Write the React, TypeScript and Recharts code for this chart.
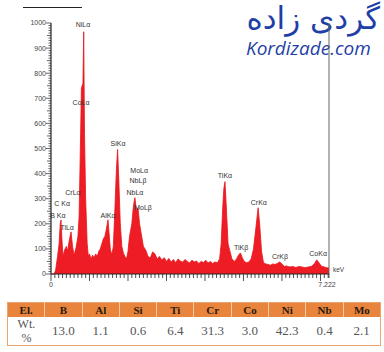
import { AreaChart, Area, XAxis, YAxis, ReferenceDot, ReferenceLine } from "recharts";

// EDS spectrum (keV, counts)
const energyKeV = [
  0.0, 0.08, 0.12, 0.17, 0.21, 0.24, 0.26, 0.28, 0.31, 0.35, 0.4, 0.43, 0.47, 0.52, 0.56, 0.6,
  0.65, 0.7, 0.73, 0.77, 0.79, 0.83, 0.85, 0.87, 0.9, 0.94, 0.97, 1.0, 1.04, 1.08, 1.12, 1.16,
  1.2, 1.24, 1.28, 1.32, 1.36, 1.4, 1.44, 1.48, 1.51, 1.54, 1.58, 1.62, 1.66, 1.7, 1.73, 1.76,
  1.8, 1.84, 1.88, 1.92, 1.96, 2.0, 2.04, 2.1, 2.14, 2.18, 2.22, 2.26, 2.3, 2.34, 2.4, 2.46,
  2.52, 2.58, 2.64, 2.7, 2.76, 2.82, 2.88, 2.94, 3.0, 3.06, 3.12, 3.18, 3.24, 3.3, 3.36, 3.42,
  3.48, 3.54, 3.6, 3.66, 3.72, 3.78, 3.84, 3.9, 3.96, 4.02, 4.08, 4.14, 4.2, 4.26, 4.32, 4.38,
  4.42, 4.46, 4.49, 4.52, 4.55, 4.6, 4.65, 4.7, 4.76, 4.82, 4.87, 4.92, 4.97, 5.02, 5.08, 5.14,
  5.2, 5.26, 5.32, 5.38, 5.42, 5.47, 5.52, 5.58, 5.64, 5.7, 5.76, 5.82, 5.88, 5.94, 6.0, 6.06,
  6.12, 6.2, 6.28, 6.36, 6.44, 6.52, 6.6, 6.68, 6.76, 6.84, 6.9, 6.94, 6.98, 7.04, 7.1, 7.16,
  7.222,
];
const counts = [
  0, 0, 15, 70, 120, 200, 215, 150, 70, 95, 110, 90, 130, 168, 110, 75,
  105, 150, 230, 560, 740, 760, 965, 560, 300, 120, 70, 80, 60, 75, 65, 80,
  70, 90, 100, 120, 140, 150, 180, 216, 160, 100, 76, 110, 260, 420, 496, 380,
  200, 110, 84, 70, 60, 90, 150, 200, 270, 304, 250, 264, 200, 164, 110, 96,
  70, 64, 88, 80, 60, 70, 55, 65, 50, 62, 48, 58, 45, 60, 52, 47,
  58, 50, 44, 55, 48, 52, 42, 50, 46, 55, 44, 50, 42, 48, 45, 60,
  120, 260, 340, 368, 280, 120, 90, 60, 50, 60, 75, 84, 65, 50, 45, 48,
  60, 100, 180, 264, 200, 90, 45, 40, 38, 35, 40, 38, 42, 48, 40, 30,
  32, 28, 30, 26, 30, 28, 25, 28, 30, 40, 56, 50, 40, 30, 28, 25,
  24,
];

const peakNames = [
  "NiLα", "CoLα", "CrLα", "C Kα", "B Kα", "TiLα", "AlKα", "SiKα", "MoLα",
  "NbLβ", "NbLα", "MoLβ", "TiKα", "TiKβ", "CrKα", "CrKβ", "CoKα",
];
const peakLabelKeV = [0.83, 0.78, 0.57, 0.29, 0.18, 0.42, 1.48, 1.74, 2.29, 2.26, 2.18, 2.39, 4.52, 4.94, 5.4, 5.95, 6.94];
const peakLabelCounts = [992, 684, 324, 280, 232, 184, 232, 520, 412, 372, 324, 264, 392, 104, 284, 68, 80];

const elements = ["B", "Al", "Si", "Ti", "Cr", "Co", "Ni", "Nb", "Mo"];
const wtPercent = ["13.0", "1.1", "0.6", "6.4", "31.3", "3.0", "42.3", "0.4", "2.1"];

const X_MAX = 7.222;
const yTicks = Array.from({ length: 101 }, (_, i) => i * 10);
const xTicks = [...Array.from({ length: 73 }, (_, i) => i / 10), X_MAX];

const data = energyKeV.map((keV, i) => ({ keV, counts: counts[i] }));

function YTick({ x, y, payload }: any) {
  const v = payload.value;
  const major = v % 100 === 0;
  const len = major ? 5 : v % 50 === 0 ? 4 : 2.5;
  return (
    <g>
      <line x1={x} x2={x - len} y1={y} y2={y} stroke="#222" strokeWidth={0.7} />
      {major && (
        <text x={x - len} y={y} dy="0.35em" textAnchor="end" fontSize={7} fill="#444" fontFamily="Arial">
          {v}
        </text>
      )}
    </g>
  );
}

function XTick({ x, y, payload }: any) {
  const v = payload.value;
  const isEnd = v === X_MAX;
  const major = Math.abs(v - Math.round(v)) < 1e-6;
  const len = major ? 7 : 4;
  return (
    <g>
      <line x1={x} x2={x} y1={y} y2={y + len} stroke="#222" strokeWidth={0.8} />
      {(v === 0 || isEnd) && (
        <text x={x - (isEnd ? 2 : 0)} y={y + 13} textAnchor="middle" fontSize={7} fill="#444" fontFamily="Arial">
          {isEnd ? "7.222" : "0"}
        </text>
      )}
      {isEnd && (
        <text x={x + 4} y={y - 2} fontSize={6.5} fill="#444" fontFamily="Arial">
          keV
        </text>
      )}
    </g>
  );
}

const cell: React.CSSProperties = { textAlign: "center", padding: 0 };

export default function App() {
  return (
    <div style={{ position: "absolute", left: 0, top: 0, width: 384, height: 352, background: "#fff", overflow: "hidden" }}>
      <div style={{ position: "absolute", left: 23, top: 7, width: 59, height: 1, background: "#222" }} />
      <div
        style={{
          position: "absolute",
          right: 4,
          top: 0,
          fontFamily: "DejaVu Sans",
          fontSize: 31,
          lineHeight: "normal",
          color: "#1f3fa6",
          direction: "rtl",
          whiteSpace: "nowrap",
        }}
      >
        گردی زاده
      </div>
      <div
        style={{
          position: "absolute",
          left: 246,
          top: 37,
          fontFamily: "Open Sans",
          fontStyle: "italic",
          fontSize: 19,
          lineHeight: "22px",
          color: "#1f3fa6",
        }}
      >
        Kordizade.com
      </div>

      <div style={{ position: "absolute", left: 0, top: 0 }}>
        <AreaChart width={384} height={290} data={data} margin={{ top: 23, right: 55, left: 0, bottom: 0 }}>
          <XAxis
            dataKey="keV"
            type="number"
            domain={[0, X_MAX]}
            ticks={xTicks}
            interval={0}
            tick={<XTick />}
            tickSize={0}
            tickMargin={0}
            tickLine={false}
            axisLine={{ stroke: "#222", strokeWidth: 1 }}
            height={16}
            allowDataOverflow
          />
          <YAxis
            type="number"
            domain={[0, 1000]}
            ticks={yTicks}
            interval={0}
            tick={<YTick />}
            tickSize={0}
            tickMargin={0}
            tickLine={false}
            axisLine={{ stroke: "#222", strokeWidth: 1.2 }}
            width={51}
          />
          <ReferenceLine x={X_MAX} stroke="#666" strokeWidth={1} />
          <Area
            type="linear"
            dataKey="counts"
            stroke="#e8141b"
            strokeWidth={0.8}
            fill="#ee1c24"
            fillOpacity={1}
            dot={false}
            activeDot={false}
            isAnimationActive={false}
          />
          {peakNames.map((name, i) => (
            <ReferenceDot
              key={name}
              x={peakLabelKeV[i]}
              y={peakLabelCounts[i]}
              r={0}
              fill="none"
              stroke="none"
              ifOverflow="visible"
              label={{ value: name, position: "center", fontSize: 7, fill: "#333", fontFamily: "Arial" }}
            />
          ))}
        </AreaChart>
      </div>

      <table
        style={{
          position: "absolute",
          left: 7,
          top: 302,
          width: 374,
          borderCollapse: "collapse",
          tableLayout: "fixed",
          fontFamily: "Liberation Serif",
          border: "1px solid #eaa46f",
        }}
      >
        <tbody>
          <tr style={{ background: "#e9843c", height: 14 }}>
            <th style={{ ...cell, fontSize: 11, color: "#2a1a10", borderRight: "1px solid #f6c9a4" }}>El.</th>
            {elements.map((el, i) => (
              <th
                key={el}
                style={{
                  ...cell,
                  fontSize: 11,
                  color: "#2a1a10",
                  borderRight: i < elements.length - 1 ? "1px solid #f6c9a4" : "none",
                }}
              >
                {el}
              </th>
            ))}
          </tr>
          <tr style={{ height: 29 }}>
            <td style={{ ...cell, fontSize: 12, color: "#555", lineHeight: "14px" }}>
              Wt.
              <br />%
            </td>
            {wtPercent.map((w, i) => (
              <td key={elements[i]} style={{ ...cell, fontSize: 13, color: "#555" }}>
                {w}
              </td>
            ))}
          </tr>
        </tbody>
      </table>
    </div>
  );
}
